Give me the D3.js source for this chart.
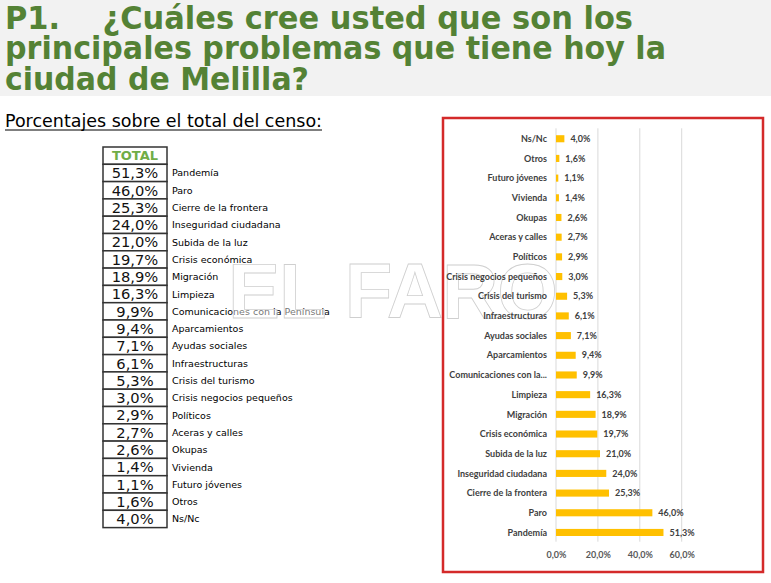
<!DOCTYPE html>
<html>
<head>
<meta charset="utf-8">
<script src="https://cdn.jsdelivr.net/npm/d3@7"></script>
<style>
body { margin: 0; background: #fff; }
</style>
</head>
<body>
<div id="chart"></div>
<script>
// data, table order (highest first, Ns/Nc last)
const categories = ["Pandemía", "Paro", "Cierre de la frontera", "Inseguridad ciudadana",
  "Subida de la luz", "Crisis económica", "Migración", "Limpieza",
  "Comunicaciones con la Península", "Aparcamientos", "Ayudas sociales",
  "Infraestructuras", "Crisis del turismo", "Crisis negocios pequeños", "Políticos",
  "Aceras y calles", "Okupas", "Vivienda", "Futuro jóvenes", "Otros", "Ns/Nc"];
const values = [51.3, 46.0, 25.3, 24.0, 21.0, 19.7, 18.9, 16.3, 9.9, 9.4, 7.1,
  6.1, 5.3, 3.0, 2.9, 2.7, 2.6, 1.4, 1.1, 1.6, 4.0];
const tickValues = [0, 20, 40, 60];
const titleLines = ["P1.    ¿Cuáles cree usted que son los",
  "principales problemas que tiene hoy la",
  "ciudad de Melilla?"];
const subtitle = "Porcentajes sobre el total del censo:";
const tableHeader = "TOTAL";

const W = 771, H = 583;
const green = "#548235";
const barColor = "#ffc000";

var es = d3.formatLocale({decimal: ",", thousands: ".", grouping: [3], currency: ["", "€"]});
var pct = function(v) { return es.format(".1f")(v) + "%"; };

var svg = d3.select("#chart").append("svg")
  .attr("width", W)
  .attr("height", H);

// title band
svg.append("rect")
  .attr("x", 0).attr("y", 0)
  .attr("width", W).attr("height", 96)
  .attr("fill", "#f2f2f2");

var titleLen = [628, 661, 304];
svg.selectAll("text.title")
  .data(titleLines)
  .join("text")
  .attr("class", "title")
  .attr("x", 5)
  .attr("y", function(d, i) { return 29 + i * 30.4; })
  .attr("textLength", function(d, i) { return titleLen[i]; })
  .attr("lengthAdjust", "spacingAndGlyphs")
  .attr("font-family", "'DejaVu Sans', sans-serif")
  .attr("font-weight", "bold")
  .attr("font-size", 32)
  .attr("fill", green)
  .style("white-space", "pre")
  .text(function(d) { return d; });

svg.append("text")
  .attr("x", 5)
  .attr("y", 127)
  .attr("textLength", 317)
  .attr("lengthAdjust", "spacingAndGlyphs")
  .attr("font-family", "'DejaVu Sans', sans-serif")
  .attr("font-size", 17.5)
  .attr("fill", "#000")
  .text(subtitle);
svg.append("line")
  .attr("x1", 5).attr("x2", 322)
  .attr("y1", 130).attr("y2", 130)
  .attr("stroke", "#000").attr("stroke-width", 1.2);

// table
const tX = 103, tW = 64, tTop = 147, rowH = 17.3;
var table = svg.append("g");

table.append("rect")
  .attr("x", tX).attr("y", tTop)
  .attr("width", tW).attr("height", rowH)
  .attr("fill", "#fff").attr("stroke", "#333").attr("stroke-width", 1.5);
table.append("text")
  .attr("x", tX + tW / 2)
  .attr("y", tTop + rowH / 2 + 4.8)
  .attr("text-anchor", "middle")
  .attr("font-family", "'DejaVu Sans', sans-serif")
  .attr("font-weight", "bold")
  .attr("font-size", 13)
  .attr("fill", "#70ad47")
  .text(tableHeader);

var rows = table.selectAll("g.row")
  .data(values)
  .join("g")
  .attr("class", "row")
  .attr("transform", function(d, i) { return "translate(0," + (tTop + (i + 1) * rowH) + ")"; });

rows.append("rect")
  .attr("x", tX).attr("y", 0)
  .attr("width", tW).attr("height", rowH)
  .attr("fill", "#fff").attr("stroke", "#333").attr("stroke-width", 1.5);
rows.append("text")
  .attr("x", tX + tW / 2)
  .attr("y", rowH / 2 + 5.3)
  .attr("text-anchor", "middle")
  .attr("font-family", "'DejaVu Sans', sans-serif")
  .attr("font-size", 14.7)
  .attr("fill", "#111")
  .text(function(d) { return pct(d); });
rows.append("text")
  .attr("x", tX + tW + 5)
  .attr("y", rowH / 2 + 3.5)
  .attr("font-family", "'DejaVu Sans', sans-serif")
  .attr("font-size", 9.5)
  .attr("fill", "#000")
  .text(function(d, i) { return categories[i]; });

// watermark
svg.append("text")
  .attr("x", 228)
  .attr("y", 318)
  .attr("textLength", 330)
  .attr("lengthAdjust", "spacing")
  .attr("font-family", "'Liberation Sans', sans-serif")
  .attr("font-weight", "bold")
  .attr("font-size", 78)
  .attr("fill", "#fff")
  .attr("fill-opacity", 0.45)
  .attr("stroke", "#cfcfcf")
  .attr("stroke-width", 0.8)
  .text("EL FARO");

// bar chart
var chartOrder = categories.slice().reverse();
var chartVals = values.slice().reverse();

var x = d3.scaleLinear()
  .domain([0, 60])
  .range([556, 681.7]);

var y = d3.scaleBand()
  .domain(d3.range(chartOrder.length))
  .range([128.9, 542.3])
  .paddingInner(0.64)
  .paddingOuter(0.32);

var chart = svg.append("g");

chart.selectAll("line.grid")
  .data(tickValues)
  .join("line")
  .attr("class", "grid")
  .attr("x1", function(d) { return x(d); })
  .attr("x2", function(d) { return x(d); })
  .attr("y1", 128.3)
  .attr("y2", 541.7)
  .attr("stroke", "#d9d9d9")
  .attr("stroke-width", 1);

chart.selectAll("rect.bar")
  .data(chartVals)
  .join("rect")
  .attr("class", "bar")
  .attr("x", x(0))
  .attr("y", function(d, i) { return y(i); })
  .attr("width", function(d) { return x(d) - x(0); })
  .attr("height", y.bandwidth())
  .attr("fill", barColor);

chart.selectAll("text.val")
  .data(chartVals)
  .join("text")
  .attr("class", "val")
  .attr("x", function(d) { return x(d) + 6; })
  .attr("y", function(d, i) { return y(i) + y.bandwidth() / 2 + 3.2; })
  .attr("font-family", "Lato, sans-serif")
  .attr("font-weight", "bold")
  .attr("font-size", 9)
  .attr("fill", "#404040")
  .text(function(d) { return pct(d); });

chart.selectAll("text.cat")
  .data(chartOrder)
  .join("text")
  .attr("class", "cat")
  .attr("x", 547)
  .attr("y", function(d, i) { return y(i) + y.bandwidth() / 2 + 3.2; })
  .attr("text-anchor", "end")
  .attr("font-family", "Lato, sans-serif")
  .attr("font-weight", "bold")
  .attr("font-size", 9)
  .attr("fill", "#404040")
  .text(function(d) { return d.length > 26 ? d.slice(0, 21) + "..." : d; });

var xAxis = d3.axisBottom(x)
  .tickValues(tickValues)
  .tickSize(0)
  .tickPadding(3)
  .tickFormat(function(d) { return pct(d); });

var ax = chart.append("g")
  .attr("transform", "translate(0,549)")
  .call(xAxis);
ax.select(".domain").remove();
ax.selectAll("text")
  .attr("font-family", "Lato, sans-serif")
  .attr("font-weight", "bold")
  .attr("font-size", 9)
  .attr("fill", "#595959");

// red frame
svg.append("rect")
  .attr("x", 443).attr("y", 118)
  .attr("width", 320).attr("height", 454)
  .attr("fill", "none")
  .attr("stroke", "#d42a2a")
  .attr("stroke-width", 2.5);
</script>
</body>
</html>
